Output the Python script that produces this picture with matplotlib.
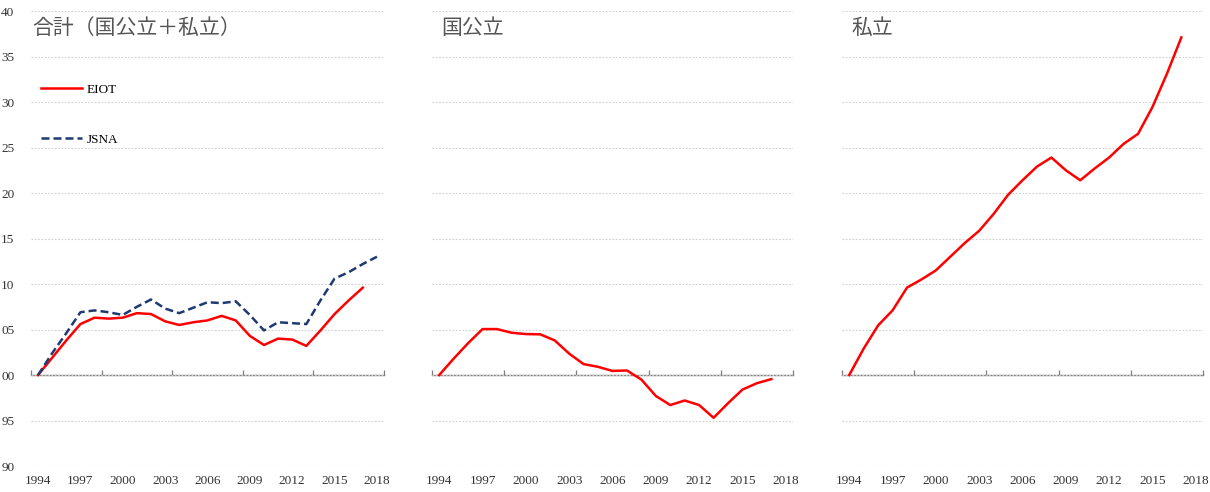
import matplotlib
matplotlib.use('Agg')
import matplotlib.pyplot as plt

plt.rcParams['font.family'] = ['Liberation Serif', 'Noto Sans CJK JP']

# ── データ (1994=100) ─────────────────────────────────────────────────────────
years_eiot = list(range(1994, 2018))
years_jsna = list(range(1994, 2019))

total_eiot = [100.0, 101.9, 103.8, 105.6, 106.3, 106.2, 106.3, 106.8, 106.7, 105.9,
              105.5, 105.8, 106.0, 106.5, 106.0, 104.3, 103.3, 104.0, 103.9, 103.2,
              104.9, 106.7, 108.2, 109.6]
total_jsna = [100.0, 102.4, 104.6, 106.9, 107.1, 106.9, 106.6, 107.5, 108.3, 107.3,
              106.8, 107.4, 108.0, 107.9, 108.1, 106.6, 104.9, 105.8, 105.7, 105.6,
              108.2, 110.6, 111.3, 112.2, 113.0]
public_eiot = [100.0, 101.8, 103.5, 105.05, 105.05, 104.65, 104.5, 104.47, 103.8, 102.35,
               101.2, 100.9, 100.45, 100.5, 99.5, 97.7, 96.7, 97.2, 96.7, 95.3,
               96.9, 98.4, 99.1, 99.55]
private_eiot = [100.0, 102.9, 105.45, 107.1, 109.6, 110.5, 111.5, 113.0, 114.5, 115.85,
                117.7, 119.8, 121.4, 122.9, 123.9, 122.5, 121.4, 122.7, 123.9, 125.4,
                126.5, 129.45, 133.1, 137.1]

titles = ['合計（国公立＋私立）', '国公立', '私立']
year_ticks = [1994, 1997, 2000, 2003, 2006, 2009, 2012, 2015, 2018]
y_ticks = [90, 95, 100, 105, 110, 115, 120, 125, 130, 135, 140]
y_labels = ['90', '95', '00', '05', '10', '15', '20', '25', '30', '35', '40']
boundaries = [1993.5, 1998.5, 2003.5, 2008.5, 2013.5, 2018.5]

RED = '#ff0000'
NAVY = '#1f3a73'

fig = plt.figure(figsize=(12.1, 4.92), dpi=100)
positions = [
    [31 / 1210, 0.0528, 353 / 1210, 0.9248],
    [432 / 1210, 0.0528, 361 / 1210, 0.9248],
    [842 / 1210, 0.0528, 361 / 1210, 0.9248],
]
axes = [fig.add_axes(p) for p in positions]
title_x = [0.003, 0.025, 0.025]

for i, ax in enumerate(axes):
    ax.set_xlim(1993.5, 2018.5)
    ax.set_ylim(90, 140)
    for s in ax.spines.values():
        s.set_visible(False)

    ax.set_yticks(y_ticks)
    ax.yaxis.grid(True, color='#cfcfcf', lw=0.8, ls=(0, (1.5, 1.5)))
    ax.set_axisbelow(True)
    ax.tick_params(axis='y', length=0, pad=12, labelsize=9.5, labelcolor='#333333')
    if i == 0:
        ax.set_yticklabels(y_labels)
    else:
        ax.set_yticklabels([])

    ax.set_xticks(year_ticks)
    ax.tick_params(axis='x', length=0, pad=6.5, labelsize=9.5, labelcolor='#333333')

    # 100 の位置の横軸
    sec = ax.secondary_xaxis((100 - 90) / 50)
    sec.set_xticks(boundaries)
    sec.set_xticklabels([])
    sec.tick_params(axis='x', direction='in', length=3.5, width=0.9, color='#7f7f7f')
    sec.spines['bottom'].set_color('#7f7f7f')
    sec.spines['bottom'].set_linewidth(1.0)

    ax.text(title_x[i], 0.962, titles[i], transform=ax.transAxes, fontsize=15,
            color='#555555', va='center', ha='left', family=['Noto Sans CJK JP'])

axes[0].plot(years_eiot, total_eiot, color=RED, lw=1.8, label='EIOT', zorder=3)
axes[0].plot(years_jsna, total_jsna, color=NAVY, lw=1.8, dashes=(3.2, 1.6),
             label='JSNA', zorder=3)
axes[1].plot(years_eiot, public_eiot, color=RED, lw=1.8, zorder=3)
axes[2].plot(years_eiot, private_eiot, color=RED, lw=1.8, zorder=3)

axes[0].legend(loc='upper left', bbox_to_anchor=(0.028, 0.841), frameon=False,
               fontsize=9.5, handlelength=3.1, handletextpad=0.4, labelspacing=2.9,
               borderpad=0, borderaxespad=0)

fig.savefig('out.png', dpi=100)
